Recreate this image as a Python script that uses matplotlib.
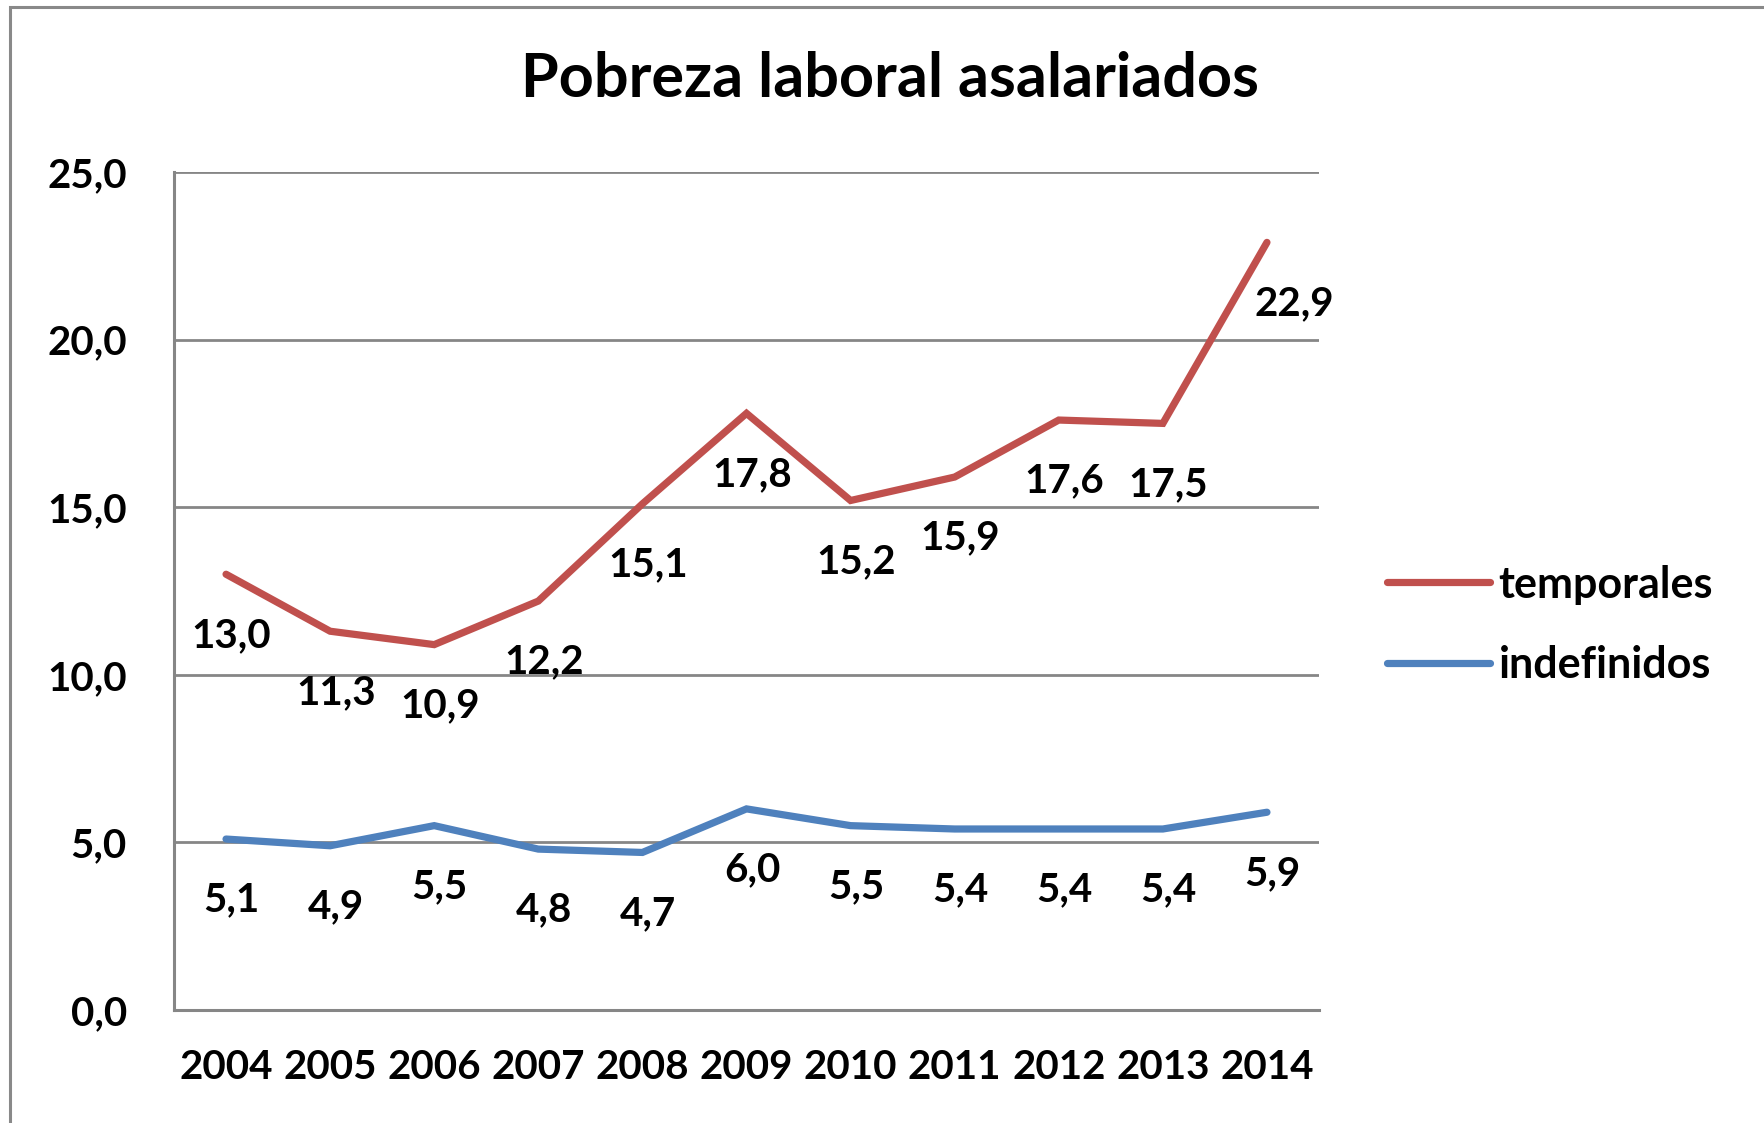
import matplotlib.pyplot as plt
from matplotlib.patches import Rectangle

years = ['2004', '2005', '2006', '2007', '2008', '2009', '2010', '2011', '2012', '2013', '2014']
temporales = [13.0, 11.3, 10.9, 12.2, 15.1, 17.8, 15.2, 15.9, 17.6, 17.5, 22.9]
indefinidos = [5.1, 4.9, 5.5, 4.8, 4.7, 6.0, 5.5, 5.4, 5.4, 5.4, 5.9]
yticks = [0, 5, 10, 15, 20, 25]

plt.rcParams['font.family'] = ['Lato', 'DejaVu Sans']
plt.rcParams['font.weight'] = 'bold'

W, H = 1764, 1123
fig = plt.figure(figsize=(W / 100, H / 100), dpi=100)
# axes box in pixels: left 174, right 1319, top 172, bottom 1010
ax = fig.add_axes([174 / W, 1 - 1010 / H, (1319 - 174) / W, (1010 - 172) / H])

# outer chart border (cropped at right and bottom)
fig.patches.append(Rectangle((10 / W, -0.05), 1.1, 1 - 7 / H + 0.05, transform=fig.transFigure,
                             fill=False, edgecolor='#898989', linewidth=2.2))

red = '#C0504D'
blue = '#4F81BD'
x = [i + 0.5 for i in range(len(years))]

ax.plot(x, temporales, color=red, linewidth=5.2, solid_capstyle='round', solid_joinstyle='miter',
        label='temporales', zorder=3)
ax.plot(x, indefinidos, color=blue, linewidth=5.2, solid_capstyle='round', solid_joinstyle='miter',
        label='indefinidos', zorder=3)

for i, (a, b) in enumerate(zip(temporales, indefinidos)):
    dx = 20 if i == len(years) - 1 else 4
    ax.annotate(f'{a:.1f}'.replace('.', ','), (x[i], a), xytext=(dx, -44), textcoords='offset points',
                ha='center', va='center', fontsize=29, fontweight='bold')
    ax.annotate(f'{b:.1f}'.replace('.', ','), (x[i], b), xytext=(4, -44), textcoords='offset points',
                ha='center', va='center', fontsize=29, fontweight='bold')

ax.set_xlim(0, 11)
ax.set_ylim(0, 25)
ax.set_yticks(yticks)
ax.set_yticklabels([f'{v:.1f}'.replace('.', ',') for v in yticks], fontsize=29, fontweight='bold')
ax.set_xticks(x)
ax.set_xticklabels(years, fontsize=29, fontweight='bold')
ax.tick_params(axis='both', length=0)
ax.tick_params(axis='y', pad=34)
ax.tick_params(axis='x', pad=28)

ax.grid(axis='y', color='#868686', linewidth=2)
ax.set_axisbelow(True)
for s in ['top', 'right']:
    ax.spines[s].set_visible(False)
for s in ['left', 'bottom']:
    ax.spines[s].set_color('#868686')
    ax.spines[s].set_linewidth(2.2)

fig.text(890 / W, 1 - 79 / H, 'Pobreza laboral asalariados', ha='center', va='center',
         fontsize=44, fontweight='bold')

leg = ax.legend(loc='center left', bbox_to_anchor=(1348 / W, 1 - 625 / H), bbox_transform=fig.transFigure,
                frameon=False, fontsize=31, handlelength=2.4, handletextpad=0.2, labelspacing=0.95)
for ln in leg.get_lines():
    ln.set_solid_capstyle('round')

fig.savefig('out.png', dpi=100)
